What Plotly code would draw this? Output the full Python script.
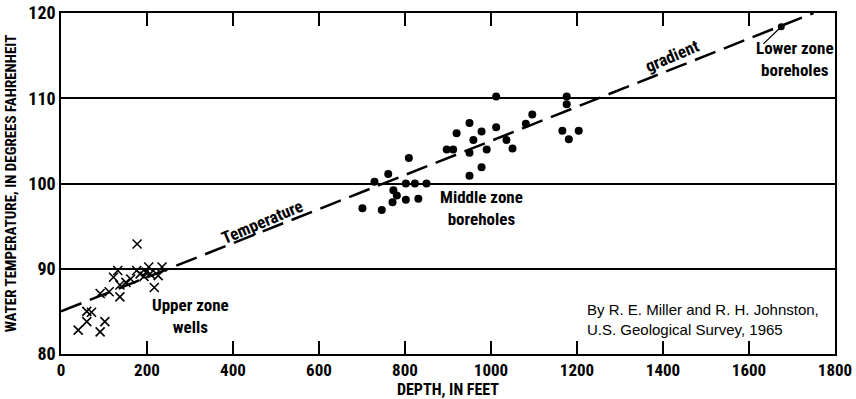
import plotly.graph_objects as go

# Upper zone wells (depth ft, temperature F)
upper_depth = [40, 60, 60, 71, 91, 102, 91, 112, 122, 132, 137, 137, 151, 162,
               177, 176, 184, 193, 198, 204, 207, 217, 226, 235]
upper_temp = [82.8, 83.8, 85.0, 84.9, 82.6, 83.8, 87.1, 87.3, 89.0, 89.8, 88.1,
              86.7, 88.4, 88.8, 92.9, 89.8, 89.4, 89.1, 89.6, 90.2, 89.4, 87.8,
              89.2, 90.2]

# Middle zone boreholes
middle_depth = [1012, 1176, 1176, 1096, 1081, 950, 1012, 920, 978, 959, 1036,
                1166, 1204, 1181, 897, 912, 990, 1050, 950, 809, 978, 950, 761,
                729, 802, 823, 850, 773, 781, 771, 802, 831, 701, 746]
middle_temp = [110.2, 110.2, 109.3, 108.1, 107.0, 107.1, 106.6, 105.9, 106.1,
               105.1, 105.1, 106.2, 106.2, 105.2, 104.0, 104.0, 104.0, 104.1,
               103.6, 103.0, 101.9, 100.9, 101.1, 100.2, 100.0, 100.0, 100.0,
               99.2, 98.6, 97.8, 98.1, 98.2, 97.1, 96.9]

# Lower zone borehole
lower_depth = [1675]
lower_temp = [118.4]

# Temperature gradient line
gradient_depth = [0, 1750]
gradient_temp = [85, 120]

x_ticks = [0, 200, 400, 600, 800, 1000, 1200, 1400, 1600, 1800]
y_ticks = [80, 90, 100, 110, 120]

NARROW = "Roboto Condensed, DejaVu Sans Condensed, Liberation Sans Narrow, Roboto, sans-serif"


def nfont(size):
    return dict(family=NARROW, size=size, color="black", weight="bold")


fig = go.Figure()
fig.add_trace(go.Scatter(x=gradient_depth, y=gradient_temp, mode="lines",
                         line=dict(color="black", width=2.5, dash="22px,9px"),
                         hoverinfo="skip", showlegend=False))
fig.add_trace(go.Scatter(x=upper_depth, y=upper_temp, mode="markers",
                         marker=dict(symbol="x-thin-open", size=9, color="black",
                                     line=dict(color="black", width=1.6)),
                         showlegend=False, cliponaxis=False))
fig.add_trace(go.Scatter(x=middle_depth, y=middle_temp, mode="markers",
                         marker=dict(symbol="circle", size=8, color="black"),
                         showlegend=False))
fig.add_trace(go.Scatter(x=lower_depth, y=lower_temp, mode="markers",
                         marker=dict(symbol="circle", size=7, color="black"),
                         showlegend=False, cliponaxis=False))

label_font = nfont(17)
ann = [
    dict(x=300, y=84.4, text="Upper zone<br>wells", showarrow=False, font=label_font),
    dict(x=979, y=97.1, text="Middle zone<br>boreholes", showarrow=False, font=label_font),
    dict(x=1707, y=114.6, text="Lower zone<br>boreholes", showarrow=False, font=label_font),
    dict(x=1675, y=118.4, ax=1630, ay=116.2, axref="x", ayref="y", text="",
         showarrow=True, arrowhead=0, arrowwidth=1.2, arrowcolor="black", standoff=3),
    dict(x=467, y=95.5, text="Temperature", showarrow=False, textangle=-23,
         font=label_font),
    dict(x=1421, y=114.9, text="gradient", showarrow=False, textangle=-23,
         font=label_font),
    dict(x=1218, y=84.1, xanchor="left",
         text="By R. E. Miller and R. H. Johnston,<br>U.S. Geological Survey, 1965",
         showarrow=False, align="left",
         font=dict(family="Liberation Sans, Arial, sans-serif", size=15, color="black")),
]

fig.update_layout(
    width=856, height=399,
    margin=dict(l=61, r=21, t=13, b=45, autoexpand=False),
    paper_bgcolor="white", plot_bgcolor="white",
    annotations=ann,
    xaxis=dict(range=[0, 1800], tickvals=x_ticks, ticks="inside", ticklen=13,
               tickwidth=1.5, tickcolor="black", mirror="ticks", showline=True,
               linecolor="black", linewidth=1.5, showgrid=False, zeroline=False,
               automargin=False, tickfont=nfont(17),
               title=dict(text="DEPTH, IN FEET", standoff=6, font=nfont(16))),
    yaxis=dict(range=[80, 120], tickvals=y_ticks, ticks="", mirror=True,
               showline=True, linecolor="black", linewidth=1.5, showgrid=True,
               gridcolor="black", gridwidth=1.5, zeroline=False,
               automargin=False, tickfont=nfont(18),
               title=dict(text="WATER TEMPERATURE, IN DEGREES FAHRENHEIT", standoff=8,
                          font=nfont(15))),
)

fig.write_html("out.html")
